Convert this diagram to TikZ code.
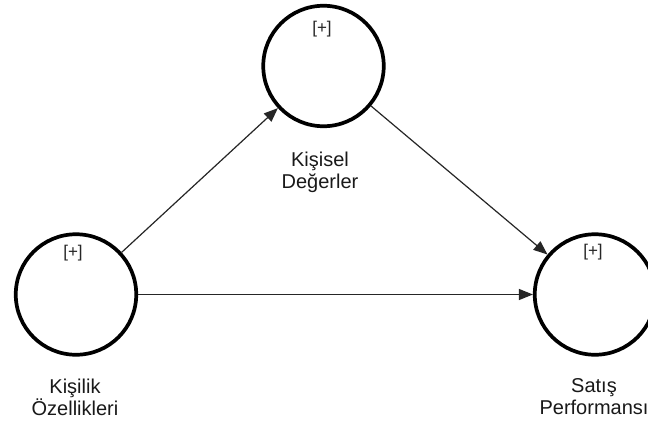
\documentclass[tikz,border=0pt]{standalone}
\usepackage{fontspec}
\setmainfont{Liberation Sans}
\usetikzlibrary{arrows.meta}
\begin{document}
\begin{tikzpicture}[x=1pt,y=-1pt,
  latent/.style={circle, draw=black, line width=3.7pt, minimum size=120.5pt, inner sep=0pt},
  conn/.style={draw=black!85, line width=1.2pt, -{Triangle[length=14pt,width=11pt]}},
  lbl/.style={font=\fontsize{20}{22}\selectfont, align=center, text=black!90, inner sep=0pt},
  plus/.style={font=\fontsize{17}{18}\selectfont, text=black!85, inner sep=0pt}]
\useasboundingbox[clip] (0,0) rectangle (648,423);
\fill[white] (0,0) rectangle (648,423);
\node[latent] (kd) at (323.5,66) {};
\node[latent] (ko) at (76,294.5) {};
\node[latent] (sp) at (595,294.5) {};
\node[plus] (pkd) at (322,29) {[+]};
\node[plus] (pko) at (73,253) {[+]};
\node[plus] (psp) at (593,252) {[+]};
\node[lbl] (lkd) at (320,172) {Kişisel\\Değerler};
\node[lbl] (lko) at (75,397) {Kişilik\\Özellikleri};
\node[lbl] (lsp) at (594,397) {Satış\\Performansı};
\draw[conn] (ko) -- (kd);
\draw[conn] (kd) -- (sp);
\draw[conn] (ko) -- (sp);
\end{tikzpicture}
\end{document}
